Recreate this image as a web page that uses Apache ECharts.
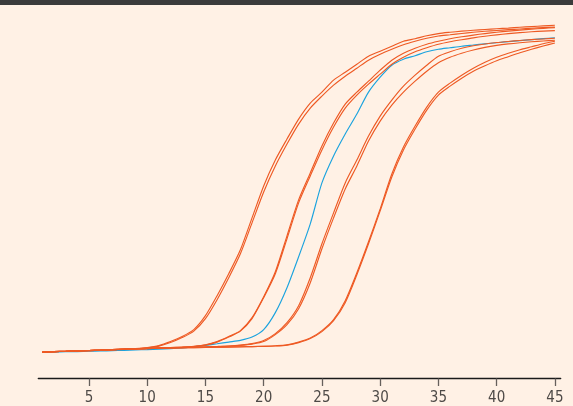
<!DOCTYPE html>
<html>
<head>
<meta charset="utf-8">
<script src="https://cdn.jsdelivr.net/npm/echarts@6/dist/echarts.min.js"></script>
<style>
  html, body { margin: 0; padding: 0; background: #fff1e5; }
  #chart { width: 573px; height: 406px; }
</style>
</head>
<body>
<div id="chart"></div>
<script>
// Amplification cycles (x) and fluorescence readings (arbitrary units)
const cycles = [1,2,3,4,5,6,7,8,9,10,11,12,13,14,15,16,17,18,19,20,21,22,23,24,25,26,27,28,29,30,31,32,33,34,35,36,37,38,39,40,41,42,43,44,45];
const tickValues = [5,10,15,20,25,30,35,40,45];

const sampleA1 = [26.5,27,27.3,27.7,28.1,28.5,29,29.5,30,31,33,37,42,49,63,83,105,129,161,193,219,240,260,276,287,299,307,315,323,328,333,338,340.5,343.5,345.7,347,348.1,349,349.8,350.5,351.2,352,352.7,353.4,354];
const sampleA2 = [26.4,26.9,27.2,27.6,28,28.4,28.9,29.4,29.9,30.8,32.5,36,41,47.5,60,79,101,125,156,187,213,235,255,271,283,294,303,311,319,325,330,334.5,338,341,343.3,344.5,345.8,347,348,348.8,349.6,350.3,351,351.7,352.3];
const sampleB1 = [26.5,27,27.3,27.7,28.1,28.5,29,29.4,29.8,30.2,30.6,31,31.5,32.3,33.8,37,42,48,61,82,107,143,179,206,233,256,275,287,298,309,319,326,331,335,338,340.5,342.5,344.2,345.7,347,348.2,349.2,350.1,350.9,351.7];
const sampleB2 = [26.4,26.9,27.2,27.6,28,28.4,28.9,29.3,29.7,30.1,30.5,30.9,31.4,32.1,33.5,36.5,41.5,47.5,60,81,105,140,176,203,229,252,271,284,295,305,315,322,327.5,331.5,335,337.5,339.5,341.4,343,344.4,345.6,346.6,347.5,348.2,348.7];
const control = [26.3,26.5,26.8,27,27.3,27.6,27.9,28.2,28.6,29,29.5,30,30.7,31.7,33.2,34.8,36.5,38.2,41.5,49,66,91,122,155,196,223,245,265,287,302,314,320,323.5,327.5,330,331.5,333,334.2,335.4,336.5,337.6,338.6,339.6,340.6,341.5];
const sampleD1 = [26.5,27,27.3,27.7,28.1,28.5,29,29.4,29.8,30.2,30.5,30.8,31.1,31.4,31.7,32.1,32.6,33.5,35,38,45,56,73,101,135,166,196,219,243,263,279,293,304,314,323,327.5,331,333.5,335.3,336.7,337.8,338.8,339.6,340.3,341];
const sampleD2 = [26.4,26.9,27.2,27.6,28,28.4,28.9,29.3,29.7,30.1,30.4,30.7,31,31.3,31.6,32,32.4,33.2,34.5,37,44,54,70,96,130,161,190,213,238,258,274,287,298,308,316.5,322,326,329.2,331.8,333.8,335.3,336.5,337.5,338.3,339];
const sampleE1 = [26.5,27,27.3,27.7,28.1,28.5,28.9,29.3,29.7,30,30.4,30.6,30.8,31,31.2,31.4,31.6,31.8,32,32.3,32.8,33.7,36.5,40.5,48,59,78,106,137,170,205,232,253,272,287,296,304,311,317,322,326,329.5,332.5,335.5,338];
const sampleE2 = [26.4,26.9,27.2,27.6,28,28.4,28.8,29.2,29.6,29.9,30.3,30.5,30.7,30.9,31.1,31.3,31.5,31.7,31.9,32.2,32.6,33.5,36,40,47,58,76,104,135,168,202,229,250,269,284,293,301,308,313.5,318.5,322.5,326.5,330,333.2,336.3];

const ORANGE = '#ee5a24';
const BLUE = '#1ba3de';

function pts(vals) { return cycles.map((c, i) => [c, vals[i]]); }
function line(name, vals, color, z) {
  return {
    name: name, type: 'line', data: pts(vals), smooth: 0.25,
    showSymbol: false, silent: true, z: z,
    lineStyle: { color: color, width: 1.15 }
  };
}

const chart = echarts.init(document.getElementById('chart'), null, { renderer: 'canvas' });
chart.setOption({
  backgroundColor: '#fff1e5',
  animation: false,
  graphic: [{
    type: 'rect', left: 0, top: 0, shape: { x: 0, y: 0, width: 573, height: 5 },
    style: { fill: '#3b3b3b' }, silent: true
  }],
  grid: { left: 38.3, right: 12.3, top: 19.3, bottom: 26.7, containLabel: false },
  xAxis: {
    type: 'value', min: 0.65, max: 45.5,
    splitLine: { show: false },
    axisLine: { show: true, lineStyle: { color: '#1a1a1a', width: 1.3 } },
    axisTick: { show: true, customValues: tickValues, length: 7.5, lineStyle: { color: '#66605c', width: 1.3 } },
    axisLabel: { show: true, customValues: tickValues, margin: 12.5, fontSize: 15, color: '#4e4a47',
      fontFamily: '"Liberation Sans Narrow", "DejaVu Sans Condensed", "Roboto", sans-serif' }
  },
  yAxis: {
    type: 'value', min: 0, max: 360, show: false, splitLine: { show: false }
  },
  series: [
    line('Control', control, BLUE, 2),
    line('A1', sampleA1, ORANGE, 3),
    line('A2', sampleA2, ORANGE, 3),
    line('B1', sampleB1, ORANGE, 3),
    line('B2', sampleB2, ORANGE, 3),
    line('D1', sampleD1, ORANGE, 3),
    line('D2', sampleD2, ORANGE, 3),
    line('E1', sampleE1, ORANGE, 3),
    line('E2', sampleE2, ORANGE, 3)
  ]
});
</script>
</body>
</html>
